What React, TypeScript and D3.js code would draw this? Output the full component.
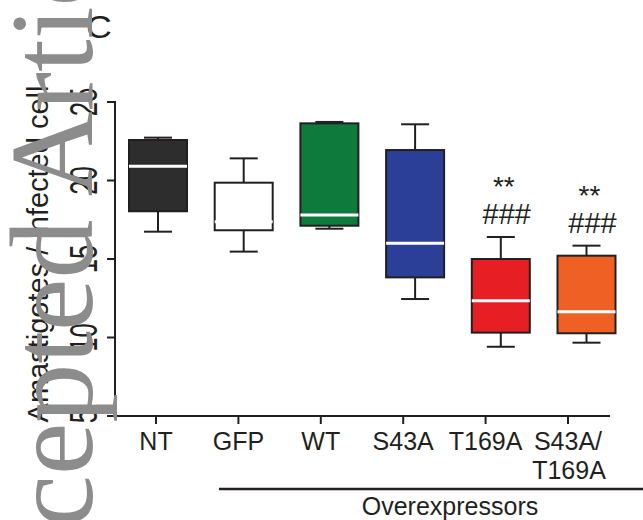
import React from "react";
import * as d3 from "d3";

const categories = ["NT", "GFP", "WT", "S43A", "T169A", "S43A/T169A"];
const tickLabelLines = [["NT"], ["GFP"], ["WT"], ["S43A"], ["T169A"], ["S43A/", "T169A"]];
const whiskerLow = [16.74, 15.47, 16.93, 12.45, 9.41, 9.67];
const q1 = [18.04, 16.83, 17.12, 13.83, 10.31, 10.27];
const medians = [20.9, 17.38, 17.8, 16.0, 12.34, 11.64];
const q3 = [22.58, 19.86, 23.64, 21.94, 15.0, 15.21];
const whiskerHigh = [22.73, 21.41, 23.73, 23.58, 16.4, 15.85];
const boxColors = ["#2d2d2d", "#ffffff", "#0e7b3d", "#2b3f98", "#e81e25", "#ee6024"];
const starMarks = ["", "", "", "", "**", "**"];
const hashMarks = ["", "", "", "", "###", "###"];
const yTicks = [5, 10, 15, 20, 25];
const yLabel = "Amastigotes / infected cell";
const groupLabel = "Overexpressors";
const panelLabel = "C";
const watermark = "Accepted Article";

const INK = "#231f20";
const SANS = "'Liberation Sans', Arial, Helvetica, sans-serif";

export default function App() {
  const y = d3.scaleLinear().domain([5, 25]).range([416, 102]);
  const xAxis = d3.scalePoint<string>().domain(categories).range([156, 568]);
  const xBox = d3.scalePoint<string>().domain(categories).range([158, 586.5]);
  const boxW = 58;
  const capW = 28;

  return (
    <svg
      width={643}
      height={520}
      style={{ position: "absolute", left: 0, top: 0, display: "block", background: "#fff" }}
    >
      <rect x={0} y={0} width={643} height={520} fill="#fff" />
      {/* panel label */}
      <text transform="translate(86,38) scale(1.12,1)" fontFamily={SANS} fontSize={32} fill={INK}>
        {panelLabel}
      </text>

      {/* y axis */}
      <line x1={115} x2={115} y1={y(25) - 1} y2={y(5)} stroke={INK} strokeWidth={2} />
      {yTicks.map((t) => (
        <g key={t}>
          <line x1={107} x2={115} y1={y(t)} y2={y(t)} stroke={INK} strokeWidth={2} />
          <text
            transform={`translate(97,${y(t)}) rotate(-90) scale(0.68,1)`}
            textAnchor="middle"
            fontFamily={SANS}
            fontSize={38}
            fill={INK}
          >
            {t}
          </text>
        </g>
      ))}
      <text
        transform={`translate(48,254) rotate(-90)`}
        textAnchor="middle"
        fontFamily={SANS}
        fontSize={29}
        fill={INK}
      >
        {yLabel}
      </text>

      {/* x axis */}
      <line x1={114} x2={610} y1={416} y2={416} stroke={INK} strokeWidth={2} />
      {categories.map((c, i) => (
        <g key={c}>
          <line x1={xAxis(c)} x2={xAxis(c)} y1={416} y2={424} stroke={INK} strokeWidth={2} />
          {tickLabelLines[i].map((ln, j) => (
            <text
              key={j}
              x={(xAxis(c) as number) + (j > 0 ? 1 : 0)}
              y={450 + j * 29}
              textAnchor="middle"
              fontFamily={SANS}
              fontSize={25}
              fill={INK}
            >
              {ln}
            </text>
          ))}
        </g>
      ))}

      {/* boxes */}
      {categories.map((c, i) => {
        const cx = xBox(c) as number;
        return (
          <g key={"b" + c}>
            <line x1={cx} x2={cx} y1={y(whiskerHigh[i])} y2={y(q3[i])} stroke={INK} strokeWidth={2} />
            <line x1={cx} x2={cx} y1={y(q1[i])} y2={y(whiskerLow[i])} stroke={INK} strokeWidth={2} />
            <line
              x1={cx - capW / 2}
              x2={cx + capW / 2}
              y1={y(whiskerHigh[i])}
              y2={y(whiskerHigh[i])}
              stroke={INK}
              strokeWidth={2}
            />
            <line
              x1={cx - capW / 2}
              x2={cx + capW / 2}
              y1={y(whiskerLow[i])}
              y2={y(whiskerLow[i])}
              stroke={INK}
              strokeWidth={2}
            />
            <rect
              x={cx - boxW / 2}
              y={y(q3[i])}
              width={boxW}
              height={y(q1[i]) - y(q3[i])}
              fill={boxColors[i]}
              stroke={INK}
              strokeWidth={2}
            />
            <line
              x1={cx - boxW / 2}
              x2={cx + boxW / 2}
              y1={y(medians[i])}
              y2={y(medians[i])}
              stroke="#ffffff"
              strokeWidth={3}
            />
            {starMarks[i] && (
              <text x={cx + 3} y={y(whiskerHigh[i]) - 41} textAnchor="middle" fontFamily={SANS} fontSize={28} fill={INK}>
                {starMarks[i]}
              </text>
            )}
            {hashMarks[i] && (
              <text x={cx + 6} y={y(whiskerHigh[i]) - 13} textAnchor="middle" fontFamily={SANS} fontSize={29} fill={INK}>
                {hashMarks[i]}
              </text>
            )}
          </g>
        );
      })}

      {/* group bracket */}
      <line x1={219} x2={643} y1={489} y2={489} stroke={INK} strokeWidth={2.5} />
      <text x={450} y={515} textAnchor="middle" fontFamily={SANS} fontSize={25} fill={INK}>
        {groupLabel}
      </text>

      {/* watermark */}
      <text
        transform="translate(92,665) rotate(-90)"
        fontFamily="'Liberation Serif', 'Times New Roman', serif"
        fontSize={118}
        fill="#8c8c8c"
      >
        {watermark}
      </text>
    </svg>
  );
}
